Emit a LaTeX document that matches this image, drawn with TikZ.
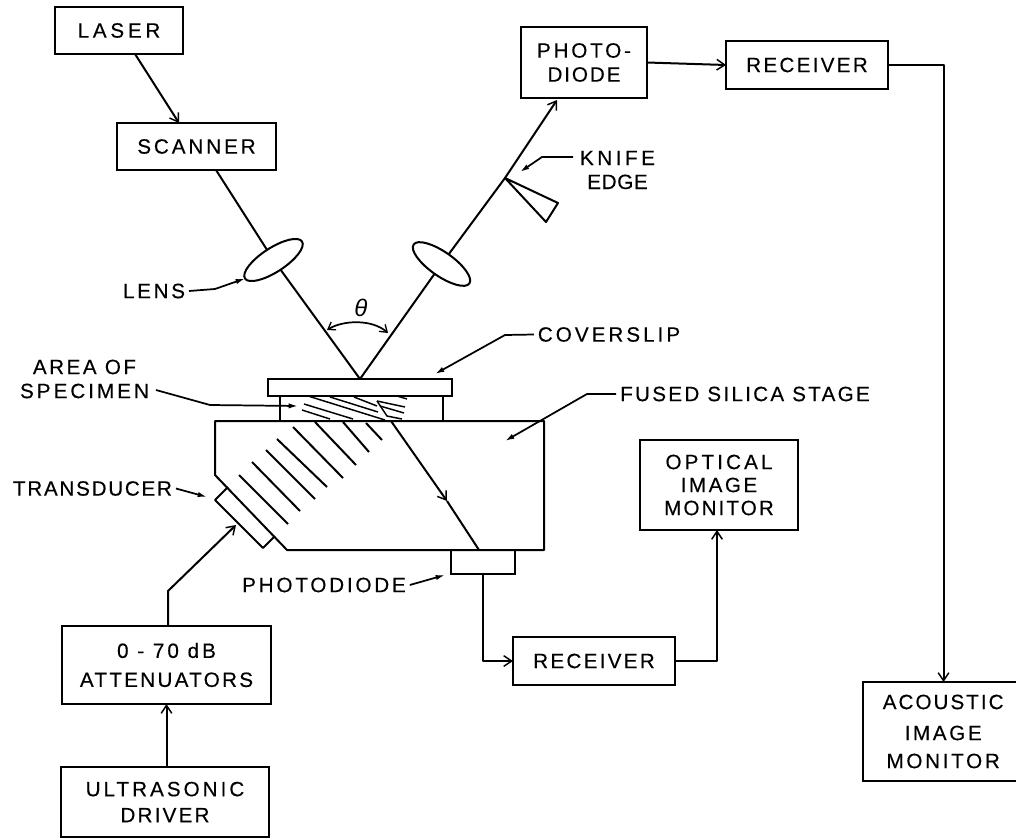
\documentclass[tikz,border=0pt]{standalone}
\usepackage{fontspec}
\setmainfont{Liberation Sans}
\usetikzlibrary{arrows.meta,calc,shapes.geometric}
\newcommand{\trk}[2]{{\addfontfeature{LetterSpace=#1,FakeBold=0.3}#2}}
\tikzset{
  every node/.style={font=\fontsize{15.5}{18}\selectfont},
  bx/.style 2 args={draw,line width=1.5pt,rectangle,inner sep=0pt,outer sep=0pt,align=center,
     minimum width=#1*0.75pt,minimum height=#2*0.75pt},
  lbl/.style={inner sep=0pt,outer sep=3pt,align=center},
  lensnode/.style={draw,line width=1.5pt,ellipse,inner sep=0pt,outer sep=0pt,
     minimum width=51pt,minimum height=18pt},
  wire/.style={line width=1.5pt,line join=round},
  flow/.style={wire,-{Straight Barb[length=6pt,width=8pt,line width=1.1pt]}},
  leader/.style={line width=1.3pt,line join=round,-{Latex[length=7pt,width=4pt]}},
  wave/.style={line width=1.5pt},
  thin wave/.style={line width=1.1pt}
}
\begin{document}
\begin{tikzpicture}[x=0.75pt,y=-0.75pt]
\useasboundingbox (0,0) rectangle (1016,838);

% --- boxes
\node[bx={128}{47}] (laser) at (119,30.5) {\trk{18}{LASER}};
\node[bx={159}{47}] (scanner) at (196.5,146.5) {\trk{14}{SCANNER}};
\node[bx={126}{71}] (pd) at (584,62.5) {\trk{13.5}{PHOTO-}\\\trk{9}{DIODE}};
\node[bx={162}{48}] (rxa) at (807,65) {\trk{11}{RECEIVER}};
\node[bx={158}{90}] (optical) at (719,485) {\trk{15}{OPTICAL}\\[-0.75pt]\trk{12}{IMAGE}\\[-0.75pt]\trk{10}{MONITOR}};
\node[bx={162}{48}] (rxb) at (594,661) {\trk{11}{RECEIVER}};
\node[bx={155}{99}] (acoustic) at (940.5,731.5) {\hspace*{4pt}\trk{9.7}{ACOUSTIC}\\[5.25pt]\hspace*{4pt}\trk{12.6}{IMAGE}\\[3pt]\hspace*{4pt}\trk{13}{MONITOR}};
\node[bx={209}{78}] (att) at (166.5,665) {\trk{14.5}{0 - 70 dB}\\[3.75pt]\trk{11}{ATTENUATORS}};
\node[bx={208}{70}] (driver) at (165,802) {\trk{14.5}{ULTRASONIC}\\[1.5pt]\trk{10.6}{DRIVER}};
\node[bx={184}{17}] (cover) at (360,387.5) {};
\node[bx={64}{24}] (pdsmall) at (483,562) {};

% --- lenses
\node[lensnode,rotate=33] (lensL) at (273.5,260) {};
\node[lensnode,rotate=-35] (lensR) at (441.5,264) {};

% --- labels
\node[lbl] (lenslbl) at (154,291) {\trk{13}{LENS}};
\node[lbl] (knifelbl) at (617.5,170) {\trk{17}{KNIFE}\\\trk{3}{EDGE}};
\node[lbl] (coverlbl) at (609,334.5) {\trk{14.5}{COVERSLIP}};
\node[lbl] (silicalbl) at (745,394) {\trk{11}{FUSED SILICA STAGE}};
\node[lbl] (arealbl) at (84.5,379) {\trk{12}{AREA OF}\\\trk{14.5}{SPECIMEN}};
\node[lbl] (translbl) at (92.5,488.5) {\trk{8.3}{TRANSDUCER}};
\node[lbl] (pdlbl) at (324,585) {\trk{13.5}{PHOTODIODE}};
\node[inner sep=0pt] (thetalbl) at (361,308) {\fontsize{18}{20}\selectfont\itshape θ};

% --- optical path
\coordinate (kniftip) at (505,178);
\draw[flow] ($(laser.south)+(16,0)$) -- ($(scanner.north)+(-17.5,0)$);
\draw[wire] ($(scanner.south)+(19.5,0)$) -- (lensL);
\draw[wire] (lensL) -- (cover.north);
\draw[wire] (cover.north) -- (lensR);
\draw[wire] (lensR) -- (kniftip);
\draw[flow] (kniftip) -- ($(pd.south)+(-27,2)$);
\draw[wire] (kniftip) -- (558,203) -- (546,222) -- cycle;

% --- angle
\coordinate (thetaL) at (327,330);
\coordinate (thetaR) at (388,333);
\draw[line width=1.3pt,{Straight Barb[length=5pt,width=7pt,line width=1pt]}-{Straight Barb[length=5pt,width=7pt,line width=1pt]}]
  (thetaL) .. controls (343,320) and (372,319) .. (thetaR);

% --- stage, spacer, transducer
\coordinate (stageA) at (215,421);
\coordinate (stageB) at (544,421);
\coordinate (stageC) at (544,550);
\coordinate (stageD) at (287,550);
\coordinate (stageE) at (215,475);
\draw[wire] (stageA) -- (stageB) -- (stageC) -- (stageD) -- (stageE) -- cycle;
\draw[wire] (280,396) -- (280,421);
\draw[wire] (443,396) -- (443,421);
\coordinate (tdA) at (228,487);
\coordinate (tdB) at (215,500);
\coordinate (tdC) at (263,548);
\coordinate (tdD) at (275,536);
\draw[wire] (tdA) -- (tdB) -- (tdC) -- (tdD);

% --- acoustic wavefronts in the stage
\draw[wave] (293,427) -- (343,478);
\draw[wave] (315,422) -- (356,465);
\draw[wave] (343,422) -- (369,452);
\draw[wave] (366,423) -- (382,440);
\draw[wave] (277,439) -- (327,487);
\draw[wave] (266,450) -- (315,499);
\draw[wave] (252,462) -- (300,511);
\draw[wave] (239,475) -- (288,524);
% --- refracted wavefronts in the specimen
\draw[thin wave] (308,396) -- (385,420);
\draw[thin wave] (330,397) -- (378,412);
\draw[thin wave] (354,397) -- (377,406);
\draw[thin wave] (377,401) -- (405,407);
\draw[thin wave] (397,396) -- (407,399);
\draw[thin wave] (304,404) -- (353,419);
\draw[thin wave] (302,410) -- (330,419);
\draw[thin wave] (380,406) -- (404,413);
\draw[thin wave] (377,401) -- (387,416) -- (402,419);

% --- diffracted beam
\coordinate (diffA) at (391,421);
\coordinate (diffB) at (447,501);
\coordinate (diffC) at (479,550);
\draw[flow] (diffA) -- (diffB);
\draw[wire] (diffB) -- (diffC);

% --- connectors
\draw[flow] (pd.east) -- (rxa.west);
\draw[flow] (rxa.east) -| ($(acoustic.north)+(3,0)$);
\draw[flow] (pdsmall.south) |- (rxb.west);
\draw[flow] (rxb.east) -| ($(optical.south)+(-2,0)$);
\draw[flow] (att.south |- driver.north) -- (att.south);
\coordinate (tdIn) at (236,525);
\draw[flow] ($(att.north)+(1.5,0)$) -- ++(0,-35) -- (tdIn);

% --- leaders
\draw[leader] (lenslbl.east) -- (215,289) -- (lensL.west);
\draw[leader] ($(knifelbl.west)+(-3,-13)$) -- (542,157) -- (520,172);
\draw[leader] (coverlbl.west) -- (505,335) -- (435,374);
\draw[leader] (silicalbl.west) -- (587,394) -- (505,441);
\draw[leader] ($(arealbl.east)+(3,11)$) -- (210,405) -- (298,406);
\draw[leader] (translbl.east) -- (207,497);
\draw[leader] (pdlbl.east) -- (445,575);
\end{tikzpicture}
\end{document}
